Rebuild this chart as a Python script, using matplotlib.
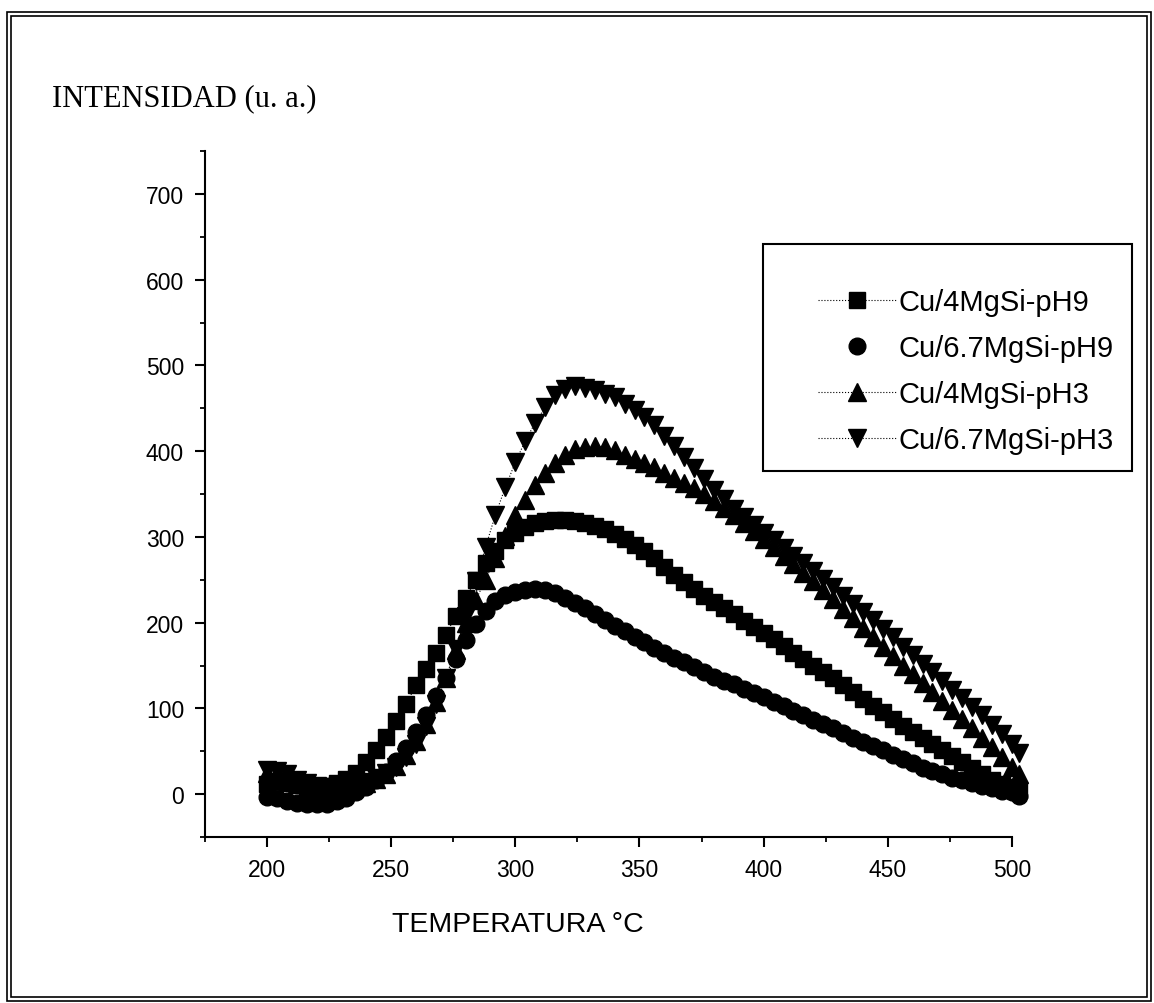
import numpy as np
import matplotlib
matplotlib.use('Agg')
import matplotlib.pyplot as plt
from matplotlib.lines import Line2D
from matplotlib.patches import Rectangle

# temperatura (C)
temp = [200, 204, 208, 212, 216, 220, 224, 228, 232, 236, 240, 244, 248, 252, 256, 260,
        264, 268, 272, 276, 280, 284, 288, 292, 296, 300, 304, 308, 312, 316, 320, 324,
        328, 332, 336, 340, 344, 348, 352, 356, 360, 364, 368, 372, 376, 380, 384, 388,
        392, 396, 400, 404, 408, 412, 416, 420, 424, 428, 432, 436, 440, 444, 448, 452,
        456, 460, 464, 468, 472, 476, 480, 484, 488, 492, 496, 500, 503]

cu4_ph9 = [12, 15, 13, 11, 10, 9, 10, 13, 18, 25, 37, 51, 67, 85, 105, 127,
           146, 165, 186, 208, 229, 250, 269, 284, 296, 305, 311, 316, 319, 320, 320, 318,
           316, 313, 309, 303, 297, 290, 283, 275, 265, 256, 247, 239, 231, 224, 217, 210,
           202, 195, 188, 181, 173, 165, 158, 150, 142, 135, 127, 119, 111, 103, 96, 88,
           80, 73, 66, 59, 52, 44, 37, 30, 23, 17, 12, 8, 5]

cu67_ph9 = [-3, -5, -8, -10, -12, -12, -11, -8, -4, 2, 8, 16, 26, 39, 54, 72,
            92, 114, 136, 158, 180, 199, 214, 225, 232, 236, 238, 239, 238, 234, 229, 223,
            217, 210, 203, 196, 190, 183, 177, 171, 165, 159, 154, 148, 143, 137, 132, 128,
            123, 118, 113, 108, 103, 97, 92, 87, 82, 77, 71, 66, 61, 56, 51, 46,
            41, 36, 31, 27, 23, 19, 16, 13, 10, 7, 4, 2, -2]

cu4_ph3 = [25, 23, 18, 12, 7, 5, 4, 4, 6, 9, 13, 18, 24, 33, 46, 62,
           82, 107, 136, 168, 200, 226, 250, 275, 301, 325, 343, 360, 374, 386, 396, 402,
           405, 406, 405, 401, 396, 391, 386, 381, 375, 369, 363, 357, 350, 342, 334, 325,
           316, 307, 297, 288, 278, 268, 258, 248, 238, 227, 216, 205, 194, 183, 172, 161,
           150, 140, 130, 119, 109, 98, 88, 77, 66, 55, 43, 32, 24]

cu67_ph3 = [28, 27, 23, 17, 13, 10, 8, 8, 9, 11, 14, 19, 25, 32, 43, 58,
            79, 105, 135, 169, 208, 248, 288, 326, 358, 387, 412, 433, 451, 465, 473, 476,
            474, 471, 467, 463, 455, 448, 440, 430, 418, 406, 393, 380, 367, 355, 344, 333,
            323, 314, 305, 296, 287, 278, 269, 260, 251, 241, 231, 222, 213, 203, 193, 183,
            172, 162, 152, 142, 132, 122, 112, 102, 92, 81, 70, 58, 48]

labels = ['Cu/4MgSi-pH9', 'Cu/6.7MgSi-pH9', 'Cu/4MgSi-pH3', 'Cu/6.7MgSi-pH3']

plt.rcParams['font.family'] = ['Liberation Sans', 'DejaVu Sans']

fig = plt.figure(figsize=(11.54, 10.04), dpi=100)
ax = fig.add_axes([0.1776, 0.1653, 0.6993, 0.6833])

series = [cu4_ph9, cu67_ph9, cu4_ph3, cu67_ph3]
markers = ['s', 'o', '^', 'v']
msizes = [11.5, 12, 13.5, 13.5]
for y, m, ms in zip(series, markers, msizes):
    ax.plot(temp, y, color='black', linestyle=':', linewidth=0.8,
            marker=m, markersize=ms, markerfacecolor='black',
            markeredgecolor='black', clip_on=False)

ax.set_xlim(175, 500)
ax.set_ylim(-50, 750)
ax.set_xticks([200, 250, 300, 350, 400, 450, 500])
ax.set_yticks([0, 100, 200, 300, 400, 500, 600, 700])
ax.set_xticks(np.arange(175, 501, 25), minor=True)
ax.set_yticks(np.arange(-50, 751, 50), minor=True)
ax.spines['top'].set_visible(False)
ax.spines['right'].set_visible(False)
ax.spines['left'].set_linewidth(1.5)
ax.spines['bottom'].set_linewidth(1.5)
ax.tick_params(which='major', direction='out', length=7, width=1.5,
               labelsize=16.5, pad=8)
ax.tick_params(which='minor', direction='out', length=3.5, width=1.3)

fig.text(0.045, 0.902, 'INTENSIDAD (u. a.)', family=['Liberation Serif', 'DejaVu Serif'],
         fontsize=22, ha='left', va='center')
fig.text(0.449, 0.079, 'TEMPERATURA °C', fontsize=20.5, ha='center', va='center')

# legend box
fig.patches.append(Rectangle((763 / 1154, 1 - 472 / 1004), (1132 - 763) / 1154,
                             (472 - 245) / 1004, transform=fig.transFigure,
                             fill=False, edgecolor='black', linewidth=1.5))
handles = []
for m, ms, ls in zip(markers, [11, 12, 13, 13], [':', 'none', ':', ':']):
    handles.append(Line2D([], [], color='black', linestyle=ls, linewidth=0.8,
                          marker=m, markersize=ms))
fig.legend(handles, labels, loc='upper left',
           bbox_to_anchor=(818 / 1154, 1 - 289 / 1004), frameon=False,
           fontsize=21, handlelength=2.7, handletextpad=0.05, labelspacing=0.62,
           borderpad=0, borderaxespad=0)

# marco doble
for (x0, y0, x1, y1) in [(7, 13, 1151, 1002), (11, 17, 1147, 998)]:
    fig.patches.append(Rectangle((x0 / 1154, 1 - y1 / 1004), (x1 - x0) / 1154,
                                 (y1 - y0) / 1004, transform=fig.transFigure,
                                 fill=False, edgecolor='black', linewidth=1.2))

plt.savefig('out.png', dpi=100)
